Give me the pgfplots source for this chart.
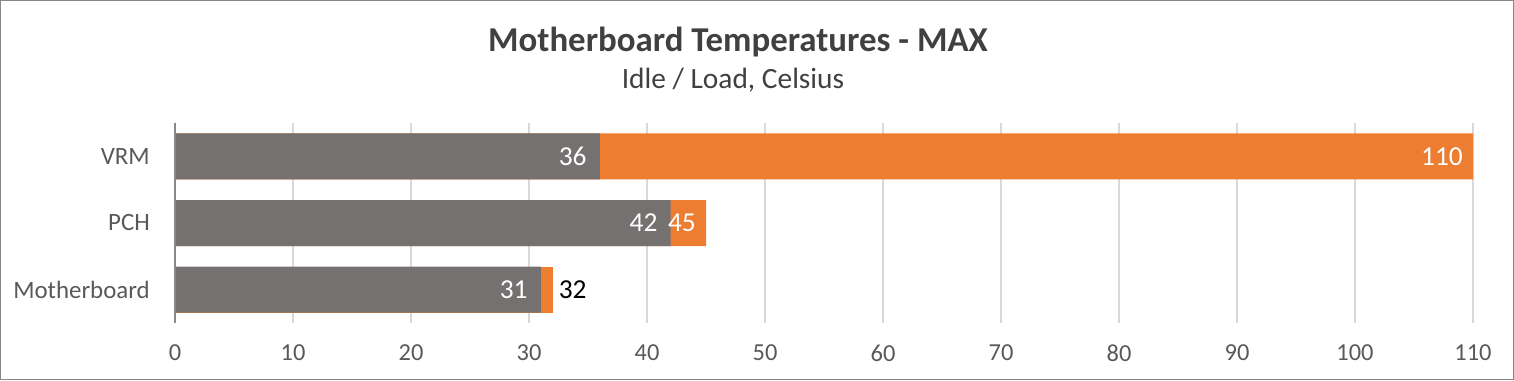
\documentclass[border=0pt]{standalone}
\usepackage{fontspec}
\setmainfont{Carlito}
\usepackage{pgfplots}
\pgfplotsset{compat=1.18}
\definecolor{cgray}{HTML}{767171}
\definecolor{corange}{HTML}{ED7D31}
\definecolor{gridgray}{HTML}{D9D9D9}
\definecolor{axisgray}{HTML}{898989}
\definecolor{txtgray}{HTML}{595959}
\definecolor{titlegray}{HTML}{404040}
\definecolor{bordergray}{HTML}{878787}
\begin{document}
\begin{tikzpicture}[x=1bp,y=1bp]
\draw[bordergray, line width=1.5bp] (0.75,0.75) rectangle (1513.25,379.25);
\node[anchor=base, font=\fontsize{35}{40}\selectfont\bfseries, text=titlegray, inner sep=0pt] at (738,380-51.7) {Motherboard Temperatures - MAX};
\node[anchor=base, font=\fontsize{29.5}{34}\selectfont, text=titlegray, inner sep=0pt] at (733,380-88) {Idle / Load, Celsius};
\begin{axis}[
  at={(175bp,57bp)}, anchor=south west,
  scale only axis, width=1298bp, height=200bp,
  xmin=0, xmax=110, ymin=-0.5, ymax=2.5,
  xbar, bar width=46bp, bar shift=0pt,
  xtick={0,10,...,110},
  ytick={0,1,2}, yticklabels={Motherboard,PCH,VRM},
  major tick length=0pt,
  xmajorgrids, grid style={gridgray, line width=1.5bp},
  axis line style={draw=none},
  tick label style={text=txtgray},
  /pgf/number format/assume math mode=true,
  xticklabel style={anchor=center, yshift=-30bp, inner sep=0pt, font=\fontsize{24.5}{28}\selectfont},
  yticklabel style={anchor=east, inner sep=0pt, xshift=-25bp, font=\fontsize{25}{28}\selectfont},
  clip=false,
]
\addplot[fill=corange, draw=none,
  nodes near coords, point meta=explicit symbolic,
  every node near coord/.append style={anchor=east, xshift=-10bp, inner sep=0pt, text=white, font=\fontsize{27.5}{30}\selectfont}]
  coordinates {(110,2)[110] (45,1)[45]};
\addplot[fill=corange, draw=none,
  nodes near coords, point meta=explicit symbolic,
  every node near coord/.append style={anchor=west, xshift=6bp, inner sep=0pt, text=black, font=\fontsize{27.5}{30}\selectfont}]
  coordinates {(32,0)[32]};
\addplot[fill=cgray, draw=none,
  nodes near coords, point meta=explicit symbolic,
  every node near coord/.append style={anchor=east, xshift=-13bp, inner sep=0pt, text=white, font=\fontsize{27.5}{30}\selectfont}]
  coordinates {(36,2)[36] (42,1)[42] (31,0)[31]};
\draw[axisgray, line width=1.5bp] (axis cs:0,-0.5) -- (axis cs:0,2.5);
\end{axis}
\end{tikzpicture}
\end{document}
